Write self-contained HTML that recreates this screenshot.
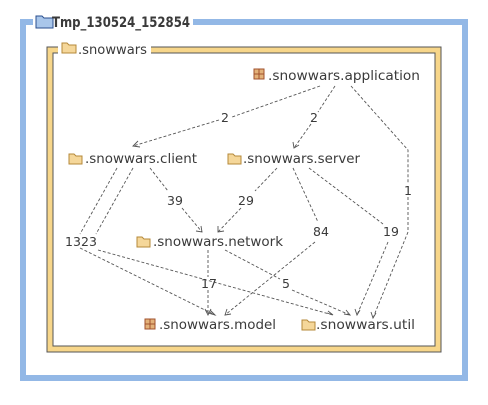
<!DOCTYPE html>
<html><head><style>
body{margin:0;width:488px;height:400px;background:#fff;overflow:hidden}
text{font-family:"DejaVu Sans","Liberation Sans",sans-serif;font-size:13px;fill:#3a3a3a}
.e{fill:none;stroke:#555;stroke-width:0.9;stroke-dasharray:3,2}
.a{fill:none;stroke:#555;stroke-width:0.9}
.n{font-size:12.5px;text-anchor:middle}
</style></head><body>
<svg width="488" height="400" xmlns="http://www.w3.org/2000/svg">
<rect x="23" y="22" width="442" height="356" fill="none" stroke="#93b8e6" stroke-width="6"/>
<rect x="33" y="12" width="160" height="18" fill="#fff"/>
<path d="M36 16h6l2 2h9v10h-17z" fill="#a9c6ea" stroke="#2a4f8f" stroke-width="1"/>
<text x="52" y="27" textLength="138" lengthAdjust="spacingAndGlyphs" style="font-weight:bold;font-size:14px">Tmp_130524_152854</text>
<rect x="47" y="47" width="394" height="305" fill="none" stroke="#555" stroke-width="1"/>
<rect x="50" y="50" width="388" height="299" fill="none" stroke="#f7d68a" stroke-width="5"/>
<rect x="53" y="53" width="382" height="293" fill="none" stroke="#555" stroke-width="1"/>
<rect x="58" y="40" width="93" height="16" fill="#fff"/>
<path d="M62 43h5l2 2h7v8h-14z" fill="#f5d79a" stroke="#b5883a" stroke-width="1"/>
<text x="78" y="54" textLength="69" lengthAdjust="spacingAndGlyphs">.snowwars</text>

<rect x="254" y="69" width="10" height="10" fill="#e3b27a" stroke="#a0522d"/><path d="M259 69v10M254 74h10" stroke="#a0522d"/>
<text x="268" y="80" textLength="152" lengthAdjust="spacingAndGlyphs">.snowwars.application</text>
<path d="M69 154h5l2 2h6v8h-13z" fill="#f5d79a" stroke="#b5883a"/>
<text x="85" y="163" textLength="112" lengthAdjust="spacingAndGlyphs">.snowwars.client</text>
<path d="M228 154h5l2 2h6v8h-13z" fill="#f5d79a" stroke="#b5883a"/>
<text x="243" y="163" textLength="117" lengthAdjust="spacingAndGlyphs">.snowwars.server</text>
<path d="M137 237h5l2 2h6v8h-13z" fill="#f5d79a" stroke="#b5883a"/>
<text x="153" y="246" textLength="130" lengthAdjust="spacingAndGlyphs">.snowwars.network</text>
<rect x="145" y="319" width="10" height="10" fill="#e3b27a" stroke="#a0522d"/><path d="M150 319v10M145 324h10" stroke="#a0522d"/>
<text x="159" y="329" textLength="117" lengthAdjust="spacingAndGlyphs">.snowwars.model</text>
<path d="M302 320h5l2 2h6v8h-13z" fill="#f5d79a" stroke="#b5883a"/>
<text x="316" y="329" textLength="99" lengthAdjust="spacingAndGlyphs">.snowwars.util</text>

<path class="e" d="M320 86L232 117M219 120L133 146"/><path class="a" d="M138 141l-5 5 7 1"/>
<text class="n" x="225" y="122">2</text>
<path class="e" d="M335 86L318 112M311 124L294 148"/><path class="a" d="M293 142l1 6 5-3"/>
<text class="n" x="314" y="122">2</text>
<path class="e" d="M351 86L408 150L408 183M408 197L408 232L373 318"/><path class="a" d="M371 312l2 6 3-5"/>
<text class="n" x="408" y="195">1</text>

<path class="e" d="M117 168L80 234M80 248L215 315"/><path class="a" d="M208 313l7 2-5-5"/>
<path class="e" d="M133 168L96 234M98 250L333 315"/><path class="a" d="M327 313l6 2-5-4"/>
<text class="n" x="73" y="246">13</text><text class="n" x="89" y="246">23</text>

<path class="e" d="M150 168L168 191M182 208L202 232"/><path class="a" d="M196 231l6 1-1-6"/>
<text class="n" x="175" y="205">39</text>
<path class="e" d="M277 168L255 191M241 208L218 232"/><path class="a" d="M218 226l0 6 6-1"/>
<text class="n" x="246" y="205">29</text>

<path class="e" d="M293 168L318 222M315 242L225 315"/><path class="a" d="M227 309l-2 6 6-1"/>
<text class="n" x="321" y="236">84</text>
<path class="e" d="M309 168L383 224M388 242L357 315"/><path class="a" d="M355 309l2 6 3-5"/>
<text class="n" x="391" y="236">19</text>

<path class="e" d="M208 250L208 277M208 290L208 315"/><path class="a" d="M205 309l3 6 3-6"/>
<text class="n" x="209" y="288">17</text>
<path class="e" d="M225 250L280 279M292 290L350 315"/><path class="a" d="M344 314l6 1-4-5"/>
<text class="n" x="286" y="288">5</text>
</svg>
</body></html>
